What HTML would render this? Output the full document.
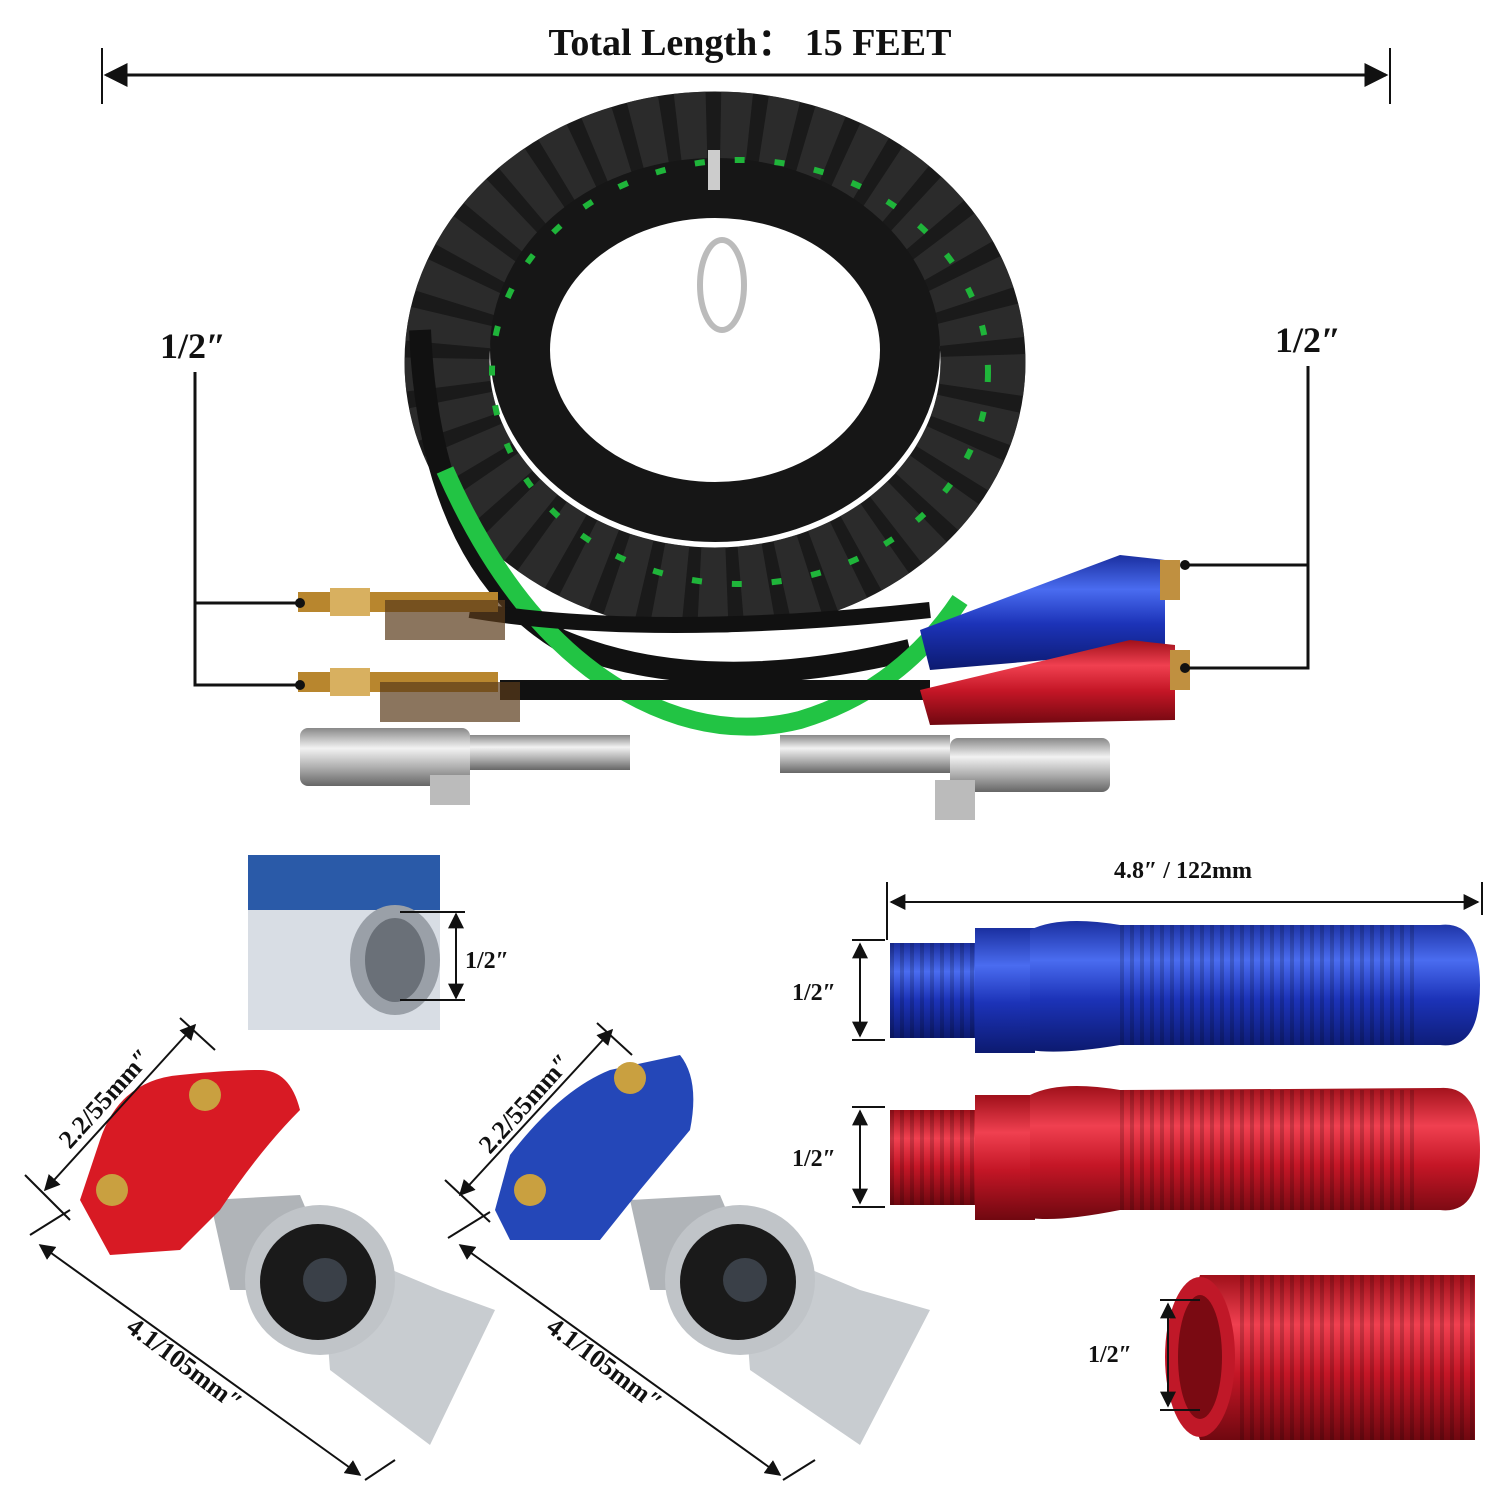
<!DOCTYPE html>
<html><head><meta charset="utf-8"><style>
html,body{margin:0;padding:0;background:#fff}
svg{display:block}
text{font-family:"Liberation Serif",serif;font-weight:bold;fill:#111}
</style></head><body>
<svg width="1500" height="1500" viewBox="0 0 1500 1500" xmlns="http://www.w3.org/2000/svg">
<defs>
<marker id="a" viewBox="0 0 10 10" refX="9" refY="5" markerWidth="8" markerHeight="8" orient="auto-start-reverse"><path d="M0,0L10,5L0,10z" fill="#111"/></marker>
<linearGradient id="steel" x1="0" y1="0" x2="0" y2="1"><stop offset="0" stop-color="#888"/><stop offset=".35" stop-color="#f2f2f2"/><stop offset=".7" stop-color="#aaa"/><stop offset="1" stop-color="#666"/></linearGradient>
<linearGradient id="blue" x1="0" y1="0" x2="0" y2="1"><stop offset="0" stop-color="#1a2fa0"/><stop offset=".3" stop-color="#4a6cf0"/><stop offset=".6" stop-color="#1c33b8"/><stop offset="1" stop-color="#0c1a70"/></linearGradient>
<linearGradient id="red" x1="0" y1="0" x2="0" y2="1"><stop offset="0" stop-color="#a0101a"/><stop offset=".3" stop-color="#f04050"/><stop offset=".6" stop-color="#c41626"/><stop offset="1" stop-color="#700810"/></linearGradient>
<pattern id="rib" width="10" height="10" patternUnits="userSpaceOnUse"><rect width="10" height="10" fill="none"/><rect width="4" height="10" fill="#000" opacity=".18"/></pattern>
</defs>

<text x="750" y="55" font-size="38" text-anchor="middle">Total Length： 15 FEET</text>
<line x1="102" y1="48" x2="102" y2="104" stroke="#111" stroke-width="2"/>
<line x1="1390" y1="48" x2="1390" y2="104" stroke="#111" stroke-width="2"/>
<line x1="106" y1="75" x2="1386" y2="75" stroke="#111" stroke-width="3" marker-start="url(#a)" marker-end="url(#a)"/>

<ellipse cx="715" cy="362" rx="268" ry="228" fill="none" stroke="#1a1a1a" stroke-width="85"/>
<ellipse cx="715" cy="362" rx="268" ry="228" fill="none" stroke="#333" stroke-width="85" stroke-dasharray="28 14" opacity=".7"/>
<ellipse cx="715" cy="350" rx="195" ry="162" fill="none" stroke="#161616" stroke-width="60"/>
<ellipse cx="740" cy="372" rx="248" ry="212" fill="none" stroke="#1fb53a" stroke-width="6" stroke-dasharray="10 30"/>
<path d="M420,330 Q430,560 560,640 Q700,700 910,650" fill="none" stroke="#111" stroke-width="22"/>
<path d="M445,470 Q520,640 640,700 Q720,740 800,720 Q900,690 960,600" fill="none" stroke="#22c444" stroke-width="18"/>
<path d="M500,690 Q650,690 930,690" fill="none" stroke="#111" stroke-width="20"/>
<path d="M470,610 Q650,640 930,610" fill="none" stroke="#111" stroke-width="16"/>
<rect x="708" y="150" width="12" height="40" fill="#ccc"/>
<ellipse cx="722" cy="285" rx="22" ry="45" fill="none" stroke="#bbb" stroke-width="6"/>

<rect x="298" y="592" width="200" height="20" fill="#b8862e"/>
<rect x="298" y="672" width="200" height="20" fill="#b8862e"/>
<rect x="330" y="588" width="40" height="28" fill="#d8b060"/>
<rect x="330" y="668" width="40" height="28" fill="#d8b060"/>
<rect x="385" y="600" width="120" height="40" fill="#5a3a1a" opacity=".7"/>
<rect x="380" y="682" width="140" height="40" fill="#5a3a1a" opacity=".7"/>
<path d="M920,630 L1120,555 L1165,560 L1165,650 L930,670 Z" fill="url(#blue)"/>
<path d="M920,690 L1130,640 L1175,645 L1175,720 L930,725 Z" fill="url(#red)"/>
<rect x="1160" y="560" width="20" height="40" fill="#c09040"/>
<rect x="1170" y="650" width="20" height="40" fill="#c09040"/>
<rect x="300" y="728" width="170" height="58" rx="8" fill="url(#steel)"/>
<rect x="470" y="735" width="160" height="35" fill="url(#steel)"/>
<rect x="780" y="735" width="170" height="38" fill="url(#steel)"/>
<rect x="950" y="738" width="160" height="54" rx="8" fill="url(#steel)"/>
<rect x="935" y="780" width="40" height="40" fill="#bbb"/>
<rect x="430" y="775" width="40" height="30" fill="#bbb"/>

<text x="160" y="358" font-size="36">1/2″</text>
<path d="M195,372 V685 H300 M195,603 H300" fill="none" stroke="#111" stroke-width="3"/>
<circle cx="300" cy="603" r="5" fill="#111"/><circle cx="300" cy="685" r="5" fill="#111"/>
<text x="1275" y="352" font-size="36">1/2″</text>
<path d="M1308,366 V668 H1185 M1308,565 H1185" fill="none" stroke="#111" stroke-width="3"/>
<circle cx="1185" cy="565" r="5" fill="#111"/><circle cx="1185" cy="668" r="5" fill="#111"/>

<rect x="248" y="855" width="192" height="175" fill="#d8dde4"/>
<rect x="248" y="855" width="192" height="55" fill="#2a5aa8"/>
<ellipse cx="395" cy="960" rx="45" ry="55" fill="#9aa0a8"/>
<ellipse cx="395" cy="960" rx="30" ry="42" fill="#6a7078"/>
<path d="M400,912 H465 M400,1000 H465" stroke="#111" stroke-width="2"/>
<line x1="456" y1="914" x2="456" y2="998" stroke="#111" stroke-width="2" marker-start="url(#a)" marker-end="url(#a)"/>
<text x="465" y="968" font-size="24">1/2″</text>

<text x="1183" y="878" font-size="24" text-anchor="middle">4.8″ / 122mm</text>
<line x1="887" y1="882" x2="887" y2="940" stroke="#111" stroke-width="2"/>
<line x1="1482" y1="882" x2="1482" y2="915" stroke="#111" stroke-width="2"/>
<line x1="891" y1="902" x2="1478" y2="902" stroke="#111" stroke-width="2" marker-start="url(#a)" marker-end="url(#a)"/>
<rect x="890" y="943" width="90" height="95" fill="url(#blue)"/><rect x="890" y="943" width="90" height="95" fill="url(#rib)"/>
<rect x="975" y="928" width="60" height="125" fill="url(#blue)"/>
<path d="M1030,930 Q1060,915 1120,925 L1440,925 Q1480,920 1480,985 Q1480,1050 1440,1045 L1120,1045 Q1060,1055 1030,1050 Z" fill="url(#blue)"/>
<rect x="1120" y="925" width="300" height="120" fill="url(#rib)"/>
<rect x="890" y="1110" width="90" height="95" fill="url(#red)"/><rect x="890" y="1110" width="90" height="95" fill="url(#rib)"/>
<rect x="975" y="1095" width="60" height="125" fill="url(#red)"/>
<path d="M1030,1095 Q1060,1080 1120,1090 L1440,1088 Q1480,1085 1480,1150 Q1480,1215 1440,1210 L1120,1210 Q1060,1222 1030,1218 Z" fill="url(#red)"/>
<rect x="1120" y="1090" width="300" height="120" fill="url(#rib)"/>
<path d="M852,940 H885 M852,1040 H885" stroke="#111" stroke-width="2"/>
<line x1="860" y1="944" x2="860" y2="1036" stroke="#111" stroke-width="2" marker-start="url(#a)" marker-end="url(#a)"/>
<text x="792" y="1000" font-size="24">1/2″</text>
<path d="M852,1107 H885 M852,1207 H885" stroke="#111" stroke-width="2"/>
<line x1="860" y1="1111" x2="860" y2="1203" stroke="#111" stroke-width="2" marker-start="url(#a)" marker-end="url(#a)"/>
<text x="792" y="1166" font-size="24">1/2″</text>
<path d="M1200,1275 L1475,1275 L1475,1440 L1200,1440 Q1170,1360 1200,1275 Z" fill="url(#red)"/>
<rect x="1240" y="1275" width="235" height="165" fill="url(#rib)"/>
<ellipse cx="1200" cy="1357" rx="35" ry="80" fill="#c01828"/>
<ellipse cx="1200" cy="1357" rx="22" ry="62" fill="#7a0a12"/>
<path d="M1160,1300 H1200 M1160,1410 H1200" stroke="#111" stroke-width="2"/>
<line x1="1168" y1="1304" x2="1168" y2="1406" stroke="#111" stroke-width="2" marker-start="url(#a)" marker-end="url(#a)"/>
<text x="1088" y="1362" font-size="24">1/2″</text>

<g>
<path d="M320,1240 L440,1290 L495,1310 L430,1445 L330,1370 Z" fill="#c8ccd0"/>
<path d="M210,1200 L300,1195 L340,1290 L230,1290 Z" fill="#b0b4b8"/>
<circle cx="320" cy="1280" r="75" fill="#c0c4c8"/>
<circle cx="318" cy="1282" r="58" fill="#1a1a1a"/>
<circle cx="325" cy="1280" r="22" fill="#3a4048"/>
<path d="M80,1200 L100,1140 Q120,1080 180,1075 Q230,1070 260,1070 Q290,1070 300,1110 Q260,1150 220,1210 L180,1250 L110,1255 Z" fill="#d81a24"/>
<circle cx="205" cy="1095" r="16" fill="#c9a040"/><circle cx="112" cy="1190" r="16" fill="#c9a040"/>
</g>
<g>
<path d="M740,1240 L860,1290 L930,1310 L860,1445 L750,1370 Z" fill="#c8ccd0"/>
<path d="M630,1200 L720,1195 L760,1290 L650,1290 Z" fill="#b0b4b8"/>
<circle cx="740" cy="1280" r="75" fill="#c0c4c8"/>
<circle cx="738" cy="1282" r="58" fill="#1a1a1a"/>
<circle cx="745" cy="1280" r="22" fill="#3a4048"/>
<path d="M495,1210 L510,1155 Q560,1090 610,1070 L680,1055 Q700,1080 690,1130 L640,1190 L600,1240 L510,1240 Z" fill="#2447b8"/>
<circle cx="630" cy="1078" r="16" fill="#c9a040"/><circle cx="530" cy="1190" r="16" fill="#c9a040"/>
</g>
<line x1="45" y1="1190" x2="195" y2="1025" stroke="#111" stroke-width="2" marker-start="url(#a)" marker-end="url(#a)"/>
<line x1="25" y1="1175" x2="70" y2="1220" stroke="#111" stroke-width="2"/>
<line x1="180" y1="1018" x2="215" y2="1050" stroke="#111" stroke-width="2"/>
<text transform="translate(70,1150) rotate(-48)" font-size="26">2.2/55mm″</text>
<line x1="40" y1="1245" x2="360" y2="1475" stroke="#111" stroke-width="2" marker-start="url(#a)" marker-end="url(#a)"/>
<line x1="30" y1="1235" x2="70" y2="1210" stroke="#111" stroke-width="2"/>
<line x1="365" y1="1480" x2="395" y2="1460" stroke="#111" stroke-width="2"/>
<text transform="translate(125,1330) rotate(37)" font-size="26">4.1/105mm″</text>
<line x1="460" y1="1195" x2="612" y2="1030" stroke="#111" stroke-width="2" marker-start="url(#a)" marker-end="url(#a)"/>
<line x1="445" y1="1180" x2="490" y2="1222" stroke="#111" stroke-width="2"/>
<line x1="597" y1="1023" x2="632" y2="1055" stroke="#111" stroke-width="2"/>
<text transform="translate(490,1155) rotate(-48)" font-size="26">2.2/55mm″</text>
<line x1="460" y1="1245" x2="780" y2="1475" stroke="#111" stroke-width="2" marker-start="url(#a)" marker-end="url(#a)"/>
<line x1="448" y1="1238" x2="490" y2="1212" stroke="#111" stroke-width="2"/>
<line x1="783" y1="1480" x2="815" y2="1460" stroke="#111" stroke-width="2"/>
<text transform="translate(545,1330) rotate(37)" font-size="26">4.1/105mm″</text>
</svg>
</body></html>
